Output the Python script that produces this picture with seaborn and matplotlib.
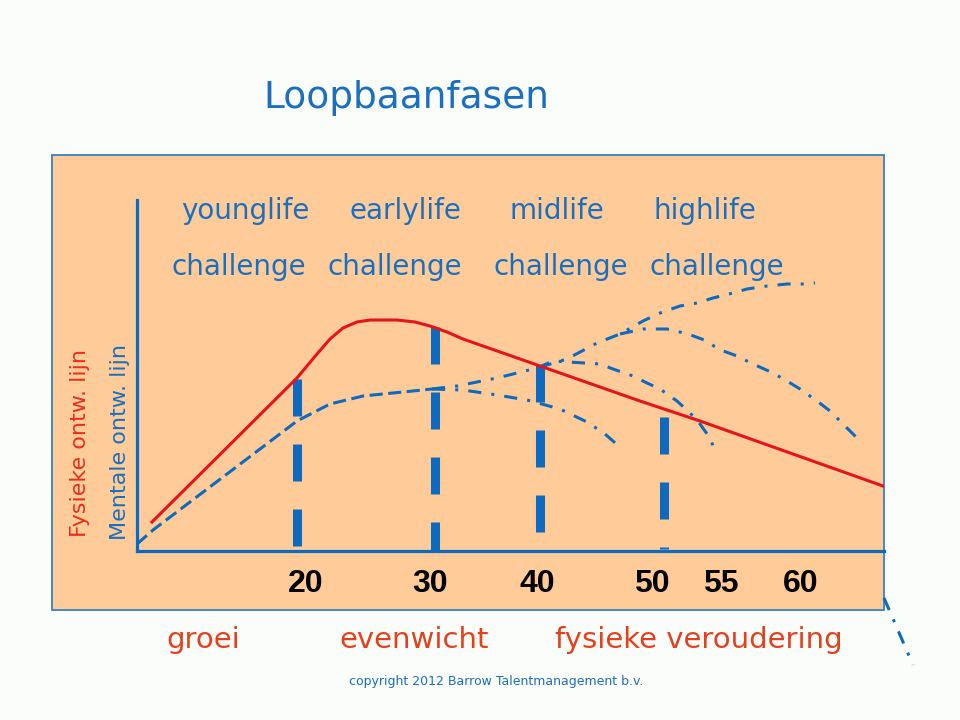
import matplotlib
matplotlib.use("Agg")
import matplotlib.pyplot as plt
from matplotlib.patches import Rectangle
import seaborn as sns

# ---- data (x: position along the career, y: development level) ----
fysiek_x = [15, 160, 180, 193, 206, 220, 233, 260, 278, 293, 310, 326, 403, 503, 563, 746]
fysiek_y = [29, 173, 197, 212, 223, 229, 231, 231, 229, 225, 219, 212, 185, 150, 130, 65]

mentaal_x = [0, 16, 160, 193, 226, 266, 295]
mentaal_y = [7, 21, 130, 147, 155, 159, 162]

tak_laag_x = [295, 326, 360, 390, 423, 450, 468, 485]
tak_laag_y = [162, 161, 156, 151, 142, 129, 117, 102]

tak_stijg_x = [295, 320, 360, 400, 430, 460, 483, 506, 523, 543, 560, 576, 596, 610, 630, 650, 666, 678]
tak_stijg_y = [162, 165, 173, 183, 192, 208, 217, 230, 238, 245, 248, 253, 258, 262, 265, 267, 267, 268]

tak_40_x = [400, 416, 463, 476, 496, 510, 523, 540, 553, 563, 573, 578]
tak_40_y = [183, 190, 187, 182, 175, 168, 162, 150, 138, 127, 113, 100]

tak_50_x = [483, 506, 530, 551, 570, 581, 600, 616, 636, 650, 663, 680, 693, 706, 720, 725]
tak_50_y = [217, 222, 222, 217, 210, 202, 195, 187, 178, 170, 162, 150, 140, 127, 113, 108]

tak_buiten_x = [747, 776]
tak_buiten_y = [-47, -114]

fase_x = [160, 298, 403, 527]
fase_top = [172, 224, 186, 134]
fase_bodem = [3, 0, 18, 2]

tick_pos = [169, 293, 400, 515, 584, 664]
tick_labels = ["20", "30", "40", "50", "55", "60"]

levens = ["younglife", "earlylife", "midlife", "highlife"]
levens_px = [245, 405, 557, 705]
challenge_px = [239, 395, 561, 717]

fasen = ["groei", "evenwicht", "fysieke veroudering"]
fasen_px = [203, 414, 699]

# ---- styling ----
BLUE = "#1a6fc0"
LINEBLUE = "#0e6abf"
RED = "#e5141a"
ORANGE = "#e5401c"
PANEL = "#ffcc99"
BG = "#fbfdfb"

W, H = 960, 720
fig = plt.figure(figsize=(9.6, 7.2), dpi=100, facecolor=BG)

def fx(px):
    return px / W

def fy(py):
    return 1 - py / H

fig.patches.append(Rectangle((fx(52), fy(610)), (884 - 52) / W, (610 - 155) / H,
                             transform=fig.transFigure, facecolor=PANEL,
                             edgecolor="#3a7fc0", linewidth=1.3, zorder=-5))

ax = fig.add_axes([fx(137), fy(551), (884 - 137) / W, (551 - 155) / H])
ax.set_zorder(1)
ax.set_xlim(0, 747)
ax.set_ylim(0, 396)
ax.patch.set_alpha(0)
for s in ["top", "right"]:
    ax.spines[s].set_visible(False)
ax.spines["left"].set_bounds(0, 351)
for s in ["left", "bottom"]:
    ax.spines[s].set_color(LINEBLUE)
    ax.spines[s].set_linewidth(2.3)
ax.set_yticks([])
ax.set_xticks(tick_pos, tick_labels)
ax.tick_params(axis="x", length=0, pad=13)
for t in ax.get_xticklabels():
    t.set_fontfamily("Liberation Sans")
    t.set_fontweight("bold")
    t.set_fontsize(23)
    t.set_color("black")

lw = 2.2
dashdot = (0, (4.3, 3.3, 1.0, 3.3))

sns.lineplot(x=fysiek_x, y=fysiek_y, sort=False, estimator=None, ax=ax,
             color=RED, linewidth=lw, zorder=3)
sns.lineplot(x=mentaal_x, y=mentaal_y, sort=False, estimator=None, ax=ax,
             color=LINEBLUE, linewidth=lw, linestyle=(0, (4.3, 1.8)), zorder=2)
for bx, by in [(tak_laag_x, tak_laag_y), (tak_stijg_x, tak_stijg_y),
               (tak_40_x, tak_40_y), (tak_50_x, tak_50_y)]:
    sns.lineplot(x=bx, y=by, sort=False, estimator=None, ax=ax,
                 color=LINEBLUE, linewidth=lw, linestyle=dashdot, zorder=2)
ax.plot(tak_buiten_x, tak_buiten_y, color=LINEBLUE, linewidth=lw,
        linestyle=dashdot, clip_on=False, zorder=2)

for x0, t0, b0 in zip(fase_x, fase_top, fase_bodem):
    sns.lineplot(x=[x0, x0], y=[t0, b0], sort=False, estimator=None, ax=ax,
                 color=LINEBLUE, linewidth=6.5, linestyle=(0, (4.1, 3.1)), zorder=2)

# ---- texts ----
fig.text(fx(406), fy(98), "Loopbaanfasen", color=BLUE, fontsize=27,
         ha="center", va="center")
for lab, px in zip(levens, levens_px):
    fig.text(fx(px), fy(211), lab, color=BLUE, fontsize=20, ha="center", va="center")
for px in challenge_px:
    fig.text(fx(px), fy(267), "challenge", color=BLUE, fontsize=20, ha="center", va="center")

fig.text(fx(80), fy(443), "Fysieke ontw. lijn", color="#e8301c", fontsize=16,
         rotation=90, ha="center", va="center")
fig.text(fx(120), fy(442), "Mentale ontw. lijn", color=BLUE, fontsize=16,
         rotation=90, ha="center", va="center")

for lab, px in zip(fasen, fasen_px):
    fig.text(fx(px), fy(640), lab, color=ORANGE, fontsize=21, ha="center", va="center")

fig.text(fx(496), fy(682), "copyright 2012 Barrow Talentmanagement b.v.", color=BLUE,
         fontsize=9, ha="center", va="center")

fig.savefig("out.png", dpi=100, facecolor=BG)
